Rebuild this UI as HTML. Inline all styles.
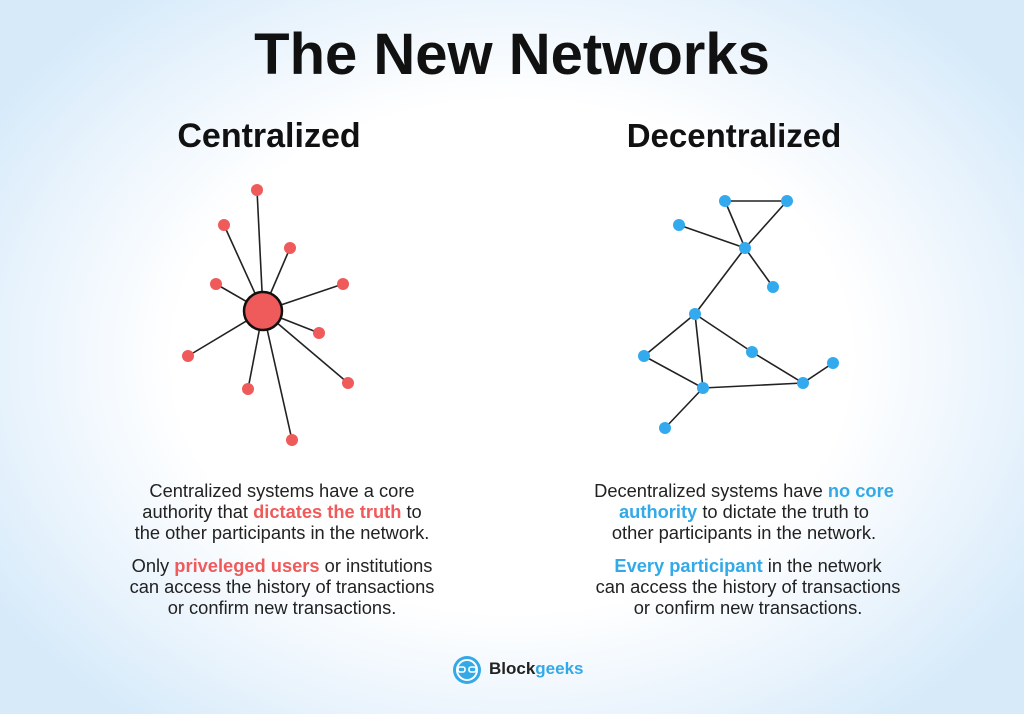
<!DOCTYPE html>
<html><head><meta charset="utf-8"><style>
html,body{margin:0;padding:0}
body{width:1024px;height:714px;position:relative;overflow:hidden;font-family:"Liberation Sans",sans-serif;
background:radial-gradient(ellipse 60% 65% at 50% 50%,#ffffff 55%,#eef6fd 75%,#d6eafa 100%);}
.t{position:absolute;left:0;width:1024px;text-align:center;font-weight:bold;color:#111;}
.p{position:absolute;text-align:center;font-size:18.3px;line-height:21px;color:#222;white-space:nowrap}
.r{color:#ef5b5b;font-weight:bold}.b{color:#33a9e8;font-weight:bold}
</style></head><body>
<div class="t" style="top:21px;font-size:58px;">The New Networks</div>
<div class="t" style="top:117px;left:169px;width:200px;font-size:34px;">Centralized</div>
<div class="t" style="top:117px;left:619px;width:230px;font-size:33px;">Decentralized</div>
<svg width="1024" height="714" style="position:absolute;left:0;top:0">
<g stroke="#222" stroke-width="1.6">
<line x1="263" y1="311" x2="257" y2="190"/><line x1="263" y1="311" x2="224" y2="225"/>
<line x1="263" y1="311" x2="290" y2="248"/><line x1="263" y1="311" x2="216" y2="284"/>
<line x1="263" y1="311" x2="343" y2="284"/><line x1="263" y1="311" x2="319" y2="333"/>
<line x1="263" y1="311" x2="188" y2="356"/><line x1="263" y1="311" x2="248" y2="389"/>
<line x1="263" y1="311" x2="348" y2="383"/><line x1="263" y1="311" x2="292" y2="440"/>
</g>
<g fill="#ef5b5b">
<circle cx="257" cy="190" r="6"/><circle cx="224" cy="225" r="6"/><circle cx="290" cy="248" r="6"/>
<circle cx="216" cy="284" r="6"/><circle cx="343" cy="284" r="6"/><circle cx="319" cy="333" r="6"/>
<circle cx="188" cy="356" r="6"/><circle cx="248" cy="389" r="6"/><circle cx="348" cy="383" r="6"/>
<circle cx="292" cy="440" r="6"/>
<circle cx="263" cy="311" r="19" stroke="#111" stroke-width="2.5"/>
</g>
<g stroke="#222" stroke-width="1.6">
<line x1="725" y1="201" x2="787" y2="201"/><line x1="725" y1="201" x2="745" y2="248"/>
<line x1="787" y1="201" x2="745" y2="248"/><line x1="679" y1="225" x2="745" y2="248"/>
<line x1="745" y1="248" x2="773" y2="287"/><line x1="745" y1="248" x2="695" y2="314"/>
<line x1="695" y1="314" x2="644" y2="356"/><line x1="695" y1="314" x2="703" y2="388"/>
<line x1="695" y1="314" x2="752" y2="352"/><line x1="752" y1="352" x2="803" y2="383"/>
<line x1="644" y1="356" x2="703" y2="388"/><line x1="703" y1="388" x2="803" y2="383"/>
<line x1="803" y1="383" x2="833" y2="363"/><line x1="703" y1="388" x2="665" y2="428"/>
</g>
<g fill="#33aaee">
<circle cx="725" cy="201" r="6"/><circle cx="787" cy="201" r="6"/><circle cx="679" cy="225" r="6"/>
<circle cx="745" cy="248" r="6"/><circle cx="773" cy="287" r="6"/><circle cx="695" cy="314" r="6"/>
<circle cx="644" cy="356" r="6"/><circle cx="752" cy="352" r="6"/><circle cx="833" cy="363" r="6"/>
<circle cx="703" cy="388" r="6"/><circle cx="803" cy="383" r="6"/><circle cx="665" cy="428" r="6"/>
</g>
<circle cx="467" cy="670" r="14" fill="#33a9e8"/>
<circle cx="467" cy="670" r="10" fill="none" stroke="#fff" stroke-width="2"/>
<rect x="458" y="667" width="7" height="5" rx="2" fill="none" stroke="#fff" stroke-width="1.6"/>
<rect x="469" y="667" width="7" height="5" rx="2" fill="none" stroke="#fff" stroke-width="1.6"/>
</svg>
<div class="p" style="left:112px;width:340px;top:480px;">Centralized systems have a core<br>authority that <span class="r">dictates the truth</span> to<br>the other participants in the network.</div>
<div class="p" style="left:112px;width:340px;top:555px;">Only <span class="r">priveleged users</span> or institutions<br>can access the history of transactions<br>or confirm new transactions.</div>
<div class="p" style="left:574px;width:340px;top:480px;">Decentralized systems have <span class="b">no core<br>authority</span> to dictate the truth to<br>other participants in the network.</div>
<div class="p" style="left:578px;width:340px;top:555px;"><span class="b">Every participant</span> in the network<br>can access the history of transactions<br>or confirm new transactions.</div>
<div style="position:absolute;left:489px;top:659px;font-size:17px;font-weight:bold;color:#222;">Block<span style="color:#33a9e8">geeks</span></div>
</body></html>
